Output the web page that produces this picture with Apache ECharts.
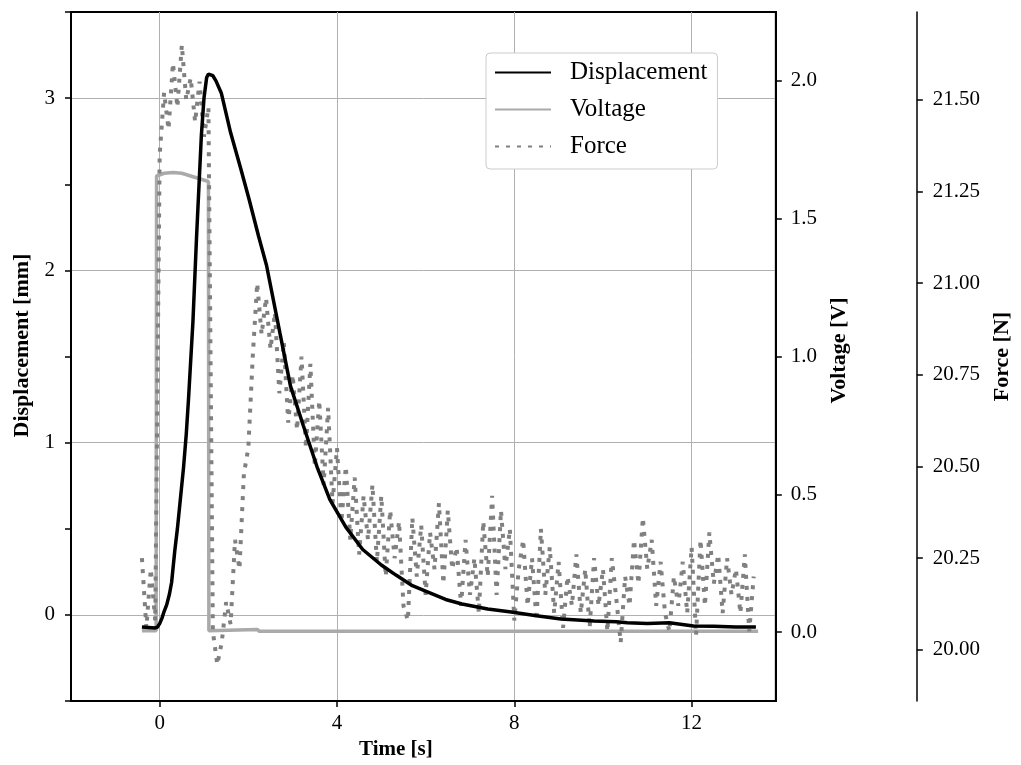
<!DOCTYPE html>
<html>
<head>
<meta charset="utf-8">
<script src="https://cdn.jsdelivr.net/npm/echarts@6/dist/echarts.min.js"></script>
<style>
html,body{margin:0;padding:0;background:#fff;}
#chart{width:1021px;height:765px;}
</style>
</head>
<body>
<div id="chart"></div>
<script>
// ---- data ----
const timeTicks = [0, 4, 8, 12];
const dispGridTicks = [0, 1, 2, 3];
const voltTicks = [0, 0.5, 1, 1.5, 2];
const forceTicks = [20, 20.25, 20.5, 20.75, 21, 21.25, 21.5];

const dispTime = [-0.4, -0.1, -0.05, 0.0, 0.05, 0.1, 0.16, 0.22, 0.27, 0.34, 0.4, 0.47, 0.54, 0.6, 0.65, 0.75, 0.83, 0.94, 1.0, 1.06, 1.1, 1.2, 1.27, 1.39, 1.6, 1.83, 2.02, 2.23, 2.41, 2.71, 2.95, 3.24, 3.55, 3.84, 4.2, 4.58, 5.0, 5.34, 5.7, 6.08, 6.45, 6.82, 7.4, 7.93, 8.5, 9.05, 9.8, 10.3, 10.55, 11.0, 11.5, 12.04, 12.5, 13.0, 13.45];
const dispVals = [-0.07, -0.075, -0.07, -0.05, -0.02, 0.02, 0.06, 0.12, 0.19, 0.37, 0.5, 0.68, 0.86, 1.05, 1.25, 1.7, 2.18, 2.78, 3.0, 3.12, 3.14, 3.13, 3.1, 3.03, 2.8, 2.59, 2.41, 2.2, 2.03, 1.64, 1.33, 1.10, 0.86, 0.67, 0.51, 0.38, 0.29, 0.23, 0.17, 0.13, 0.09, 0.064, 0.035, 0.017, -0.005, -0.023, -0.035, -0.04, -0.045, -0.05, -0.045, -0.064, -0.065, -0.07, -0.07];

const voltTime = [-0.4, -0.08, -0.07, 0.1, 0.3, 0.5, 0.7, 0.9, 1.1, 1.11, 1.15, 2.2, 2.25, 13.5];
const voltVals = [0.005, 0.005, 1.655, 1.665, 1.668, 1.665, 1.655, 1.645, 1.635, 0.005, 0.008, 0.01, 0.003, 0.003];

const forceStart = -0.4;
const forceStep = 0.1;
const forceVals = [
  20.25, 20.06, 20.22, 20.08,
  21.35, 21.52, 21.42, 21.6, 21.48, 21.65, 21.5, 21.56, 21.44, 21.55,
  21.4, 21.48, 20.05, 19.96, 20.02, 20.13, 20.07, 20.3, 20.22, 20.48,
  20.55, 20.8, 21.0, 20.86, 20.96, 20.82, 20.92, 20.7, 20.84, 20.62,
  20.75, 20.6, 20.8, 20.55, 20.78, 20.5, 20.68, 20.45, 20.66, 20.4,
  20.55, 20.35, 20.5, 20.3, 20.47, 20.26, 20.42, 20.3, 20.45, 20.24,
  20.42, 20.2, 20.38, 20.25, 20.35, 20.12, 20.08, 20.36, 20.2, 20.34,
  20.15, 20.32, 20.22, 20.4, 20.18, 20.38, 20.22, 20.28, 20.12, 20.3,
  20.15, 20.25, 20.1, 20.35, 20.2, 20.42, 20.15, 20.38, 20.22, 20.33,
  20.08, 20.22, 20.3, 20.12, 20.25, 20.08, 20.33, 20.15, 20.28, 20.1,
  20.24, 20.06, 20.2, 20.12, 20.26, 20.1, 20.22, 20.06, 20.25, 20.12,
  20.22, 20.05, 20.25, 20.14, 20.02, 20.2, 20.12, 20.3, 20.18, 20.36,
  20.22, 20.3, 20.12, 20.24, 20.1, 20.05, 20.2, 20.12, 20.24, 20.1,
  20.28, 20.04, 20.3, 20.12, 20.32, 20.18, 20.26, 20.1, 20.25, 20.15,
  20.22, 20.1, 20.26, 20.05, 20.2
];

// ---- build ----
const FONT = 'Liberation Serif';
const dispData = dispTime.map((t, i) => [t, dispVals[i]]);
const voltData = voltTime.map((t, i) => [t, voltVals[i]]);
const forceData = forceVals.map((v, i) => [+(forceStart + i * forceStep).toFixed(2), v]);

const axisLineStyle = { color: '#000', width: 2 };
const tickStyle = { color: '#000', width: 1.5 };
const labelBase = { color: '#000', fontSize: 21, fontFamily: FONT };
const nameBase = { color: '#000', fontSize: 22, fontWeight: 'bold', fontFamily: FONT };

const chart = echarts.init(document.getElementById('chart'), null, { renderer: 'canvas' });
chart.setOption({
  animation: false,
  backgroundColor: '#fff',
  textStyle: { fontFamily: FONT },
  grid: { left: 71, right: 242, top: 12, bottom: 63, show: true, borderColor: '#000', borderWidth: 2, backgroundColor: 'transparent' },
  legend: {
    orient: 'vertical', left: 486, top: 53,
    padding: [7, 10, 10, 8],
    itemWidth: 56, itemHeight: 14, itemGap: 12,
    backgroundColor: '#fff', borderColor: '#cccccc', borderWidth: 1, borderRadius: 4,
    itemStyle: { opacity: 0 },
    data: ['Displacement', 'Voltage', 'Force'],
    textStyle: { color: '#000', fontSize: 25, fontFamily: FONT, lineHeight: 25, padding: [0, 0, 0, 14] }
  },
  xAxis: {
    type: 'value', min: -2, max: 13.9,
    axisLine: { show: true, onZero: false, lineStyle: axisLineStyle },
    axisTick: { show: true, length: 6, lineStyle: tickStyle, customValues: timeTicks },
    axisLabel: Object.assign({ customValues: timeTicks, margin: 12 }, labelBase),
    splitLine: { show: true, lineStyle: { color: '#b0b0b0', width: 1 } },
    name: 'Time [s]', nameLocation: 'middle', nameGap: 36,
    nameTextStyle: Object.assign({ padding: [0, 55, 0, 0] }, nameBase, { fontSize: 21 })
  },
  yAxis: [
    {
      type: 'value', position: 'left', min: -0.5, max: 3.5, interval: 0.5,
      axisLine: { show: true, onZero: false, lineStyle: axisLineStyle },
      axisTick: { show: true, length: 6, lineStyle: tickStyle },
      axisLabel: Object.assign({ margin: 16, formatter: v => (Math.abs(v - Math.round(v)) < 1e-9 ? String(Math.round(v)) : '') }, labelBase),
      splitLine: { show: false },
      name: 'Displacement [mm]', nameLocation: 'middle', nameRotate: 90, nameGap: 34,
      nameTextStyle: Object.assign({ padding: [0, 0, 0, 22] }, nameBase)
    },
    {
      type: 'value', position: 'right', min: -0.25, max: 2.25,
      axisLine: { show: true, onZero: false, lineStyle: axisLineStyle },
      axisTick: { show: true, length: 6, lineStyle: tickStyle, customValues: voltTicks },
      axisLabel: Object.assign({ customValues: voltTicks, margin: 15, formatter: v => v.toFixed(1) }, labelBase),
      splitLine: { show: false },
      name: 'Voltage [V]', nameLocation: 'middle', nameRotate: 90, nameGap: 47,
      nameTextStyle: Object.assign({ padding: [0, 0, 0, 12] }, nameBase)
    },
    {
      type: 'value', position: 'right', offset: 141, min: 19.86, max: 21.74,
      axisLine: { show: true, onZero: false, lineStyle: { color: '#000', width: 1.5 } },
      axisTick: { show: true, length: 6, lineStyle: tickStyle, customValues: forceTicks },
      axisLabel: Object.assign({ customValues: forceTicks, margin: 16, formatter: v => v.toFixed(2) }, labelBase),
      splitLine: { show: false },
      name: 'Force [N]', nameLocation: 'middle', nameRotate: 90, nameGap: 68,
      nameTextStyle: nameBase
    },
    {
      type: 'value', position: 'left', min: -0.5, max: 3.5,
      axisLine: { show: false, onZero: false },
      axisTick: { show: false, customValues: dispGridTicks },
      axisLabel: { show: false, customValues: dispGridTicks },
      splitLine: { show: true, lineStyle: { color: '#b0b0b0', width: 1 } }
    }
  ],
  series: [
    {
      name: 'Voltage', type: 'line', yAxisIndex: 1, data: voltData,
      symbol: 'none', showSymbol: false, smooth: false, sampling: 'none',
      lineStyle: { color: '#aaaaaa', width: 3.5 }, itemStyle: { color: '#aaaaaa' }
    },
    {
      name: 'Force', type: 'line', yAxisIndex: 2, data: forceData,
      symbol: 'none', showSymbol: false, smooth: false, sampling: 'none',
      lineStyle: { color: '#808080', width: 4, type: [4, 7], cap: 'butt' }, itemStyle: { color: '#808080' }
    },
    {
      name: 'Displacement', type: 'line', yAxisIndex: 0, data: dispData,
      symbol: 'none', showSymbol: false, smooth: false, sampling: 'none',
      lineStyle: { color: '#000000', width: 3.5 }, itemStyle: { color: '#000000' }
    }
  ]
});
</script>
</body>
</html>
